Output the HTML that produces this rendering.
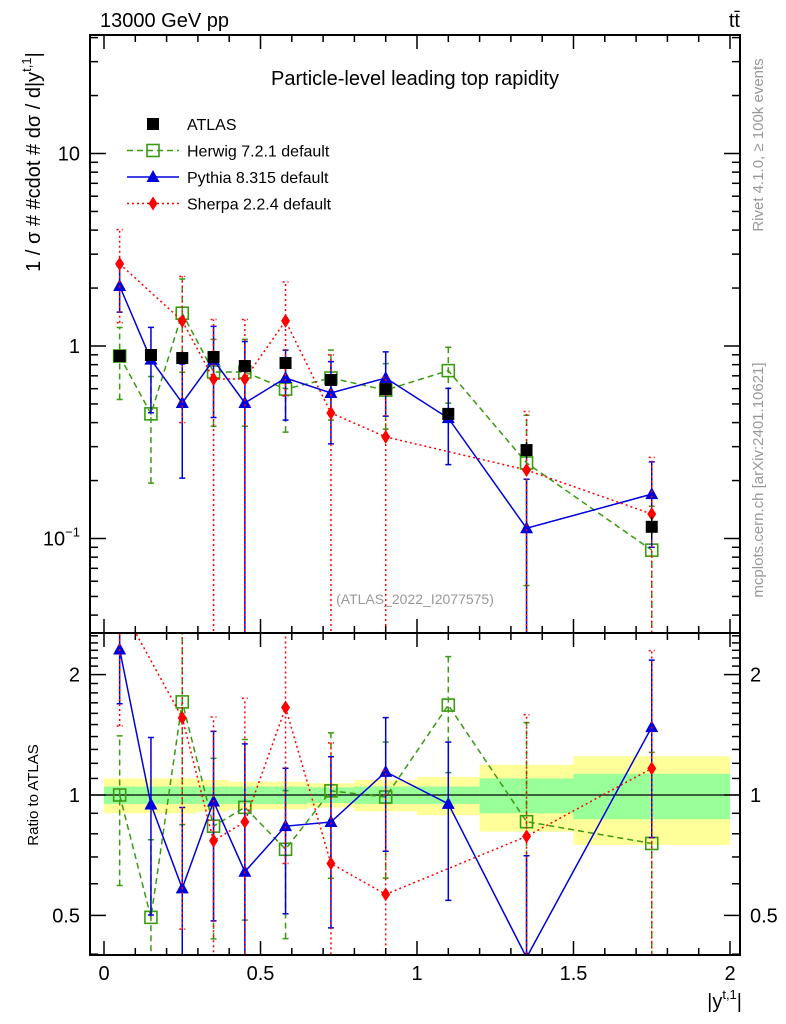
<!DOCTYPE html>
<html><head><meta charset="utf-8"><style>
html,body{margin:0;padding:0;background:#fff;overflow:hidden;width:786px;height:1024px;}
svg{display:block;font-family:"Liberation Sans",sans-serif;}
</style></head><body>
<svg id="c" width="786" height="1024" viewBox="0 0 786 1024" xmlns="http://www.w3.org/2000/svg">
<g id="bands"></g>
<g id="marks"></g>
<g id="axes"></g>
<text x="100" y="27" font-size="20">13000 GeV pp</text>
<text x="740" y="27" font-size="20" text-anchor="end">tt̄</text>
<text x="415" y="85" font-size="20" text-anchor="middle">Particle-level leading top rapidity</text>
<text x="415" y="604" font-size="14" fill="#999" text-anchor="middle">(ATLAS_2022_I2077575)</text>
<text transform="translate(40,162) rotate(-90)" font-size="20" text-anchor="middle">1 / σ # #cdot # dσ / d|y<tspan font-size="13" dy="-9">t,1</tspan><tspan dy="9">|</tspan></text>
<text transform="translate(38,795) rotate(-90)" font-size="15" text-anchor="middle">Ratio to ATLAS</text>
<text x="742" y="1008" font-size="20" text-anchor="end">|y<tspan font-size="13" dy="-9">t,1</tspan><tspan dy="9">|</tspan></text>
<text transform="translate(763,145) rotate(-90)" font-size="15" fill="#999" text-anchor="middle">Rivet 4.1.0, ≥ 100k events</text>
<text transform="translate(763,480) rotate(-90)" font-size="15" fill="#999" text-anchor="middle">mcplots.cern.ch [arXiv:2401.10621]</text>
<g id="legend"></g>
</svg>
<script>
const edges=[0,0.1,0.2,0.3,0.4,0.5,0.65,0.8,1.0,1.2,1.5,2.0];
const xc=[0.05,0.15,0.25,0.35,0.45,0.58,0.725,0.9,1.1,1.35,1.75];
const atlas=[0.887,0.898,0.866,0.877,0.787,0.816,0.666,0.597,0.444,0.288,0.115];
const statRel=[0.05,0.05,0.05,0.05,0.05,0.05,0.045,0.05,0.05,0.1,0.13];
const totRel=[0.1,0.1,0.1,0.09,0.08,0.08,0.07,0.09,0.11,0.19,0.25];
const herwig=[0.887,0.444,1.48,0.733,0.733,0.597,0.682,0.59,0.745,0.247,0.087];
const herwigErr=[0.36,0.25,0.75,0.35,0.35,0.24,0.27,0.22,0.24,0.19,0.06];
const pythia=[2.05,0.85,0.506,0.845,0.506,0.682,0.57,0.682,0.422,0.113,0.17];
const pythiaErr=[0.55,0.4,0.3,0.42,0.55,0.27,0.26,0.25,0.18,0.09,0.08];
const sherpa=[2.67,null,1.35,0.674,0.674,1.35,0.449,0.337,null,0.227,0.134];
const sherpaErr=[1.35,null,0.95,0.7,0.7,0.8,0.45,0.35,null,0.23,0.13];

const NS="http://www.w3.org/2000/svg";
const X0=104,X1=730,L=90,R=740,T=35,MB=633,RB=955;
const X=v=>X0+(X1-X0)*v/2;
const YM=v=>346-192.5*Math.log10(v);
const YR=v=>795-400*Math.log10(v);
function el(p,tag,a){const e=document.createElementNS(NS,tag);for(const k in a)e.setAttribute(k,a[k]);p.appendChild(e);return e;}
const bands=document.getElementById('bands'),marks=document.getElementById('marks'),axes=document.getElementById('axes'),leg=document.getElementById('legend');

for(let i=0;i<xc.length;i++){
  const x=X(edges[i]),w=X(edges[i+1])-x;
  const y=el(bands,'rect',{x:x,y:YR(1+totRel[i]),width:w,height:YR(1-totRel[i])-YR(1+totRel[i]),fill:'#ffff99'});
  
  
  const g=el(bands,'rect',{x:x,y:YR(1+statRel[i]),width:w,height:YR(1-statRel[i])-YR(1+statRel[i]),fill:'#99ff99'});
  
  
}
el(bands,'line',{x1:L,x2:R,y1:YR(1),y2:YR(1),stroke:'#000','stroke-width':1.3});

const defs=el(document.getElementById('c'),'defs',{});
const cm=el(defs,'clipPath',{id:'cm'});el(cm,'rect',{x:L,y:T,width:R-L,height:MB-T});
const cr=el(defs,'clipPath',{id:'cr'});el(cr,'rect',{x:L,y:MB,width:R-L,height:RB-MB});
const gm=el(marks,'g',{'clip-path':'url(#cm)'}),gr=el(marks,'g',{'clip-path':'url(#cr)'});

function marker(p,type,x,y,col){
  let m;
  if(type==='sq') m=el(p,'rect',{x:x-6,y:y-6,width:12,height:12,fill:'#000'});
  else if(type==='osq') m=el(p,'rect',{x:x-6,y:y-6,width:12,height:12,fill:'none',stroke:col,'stroke-width':1.6});
  else if(type==='tri') m=el(p,'polygon',{points:`${x},${y-7} ${x+6.5},${y+5} ${x-6.5},${y+5}`,fill:col});
  else m=el(p,'polygon',{points:`${x},${y-7} ${x+4.5},${y} ${x},${y+7} ${x-4.5},${y}`,fill:col});
  
  
}
function series(name,vals,errs,col,dash,type){
  [[gm,YM,1],[gr,YR,0]].forEach(([g,Y,main])=>{
    const pts=[];
    vals.forEach((v,i)=>{ if(v==null)return;
      const div=main?1:atlas[i];
      const val=v/div,lo=Math.max(v-errs[i],1e-4)/div,hi=(v+errs[i])/div;
      const x=X(xc[i]);
      const eb=el(g,'path',{d:`M${x},${Y(lo)}V${Y(hi)}M${x-3},${Y(lo)}h6M${x-3},${Y(hi)}h6`,stroke:col,'stroke-width':1.5,'stroke-dasharray':dash,fill:'none'});
      
      
      pts.push([x,Y(val)]);
    });
    const ln=el(g,'polyline',{points:pts.map(p=>p.join(',')).join(' '),stroke:col,'stroke-width':1.5,'stroke-dasharray':dash,fill:'none'});
    
    
    pts.forEach(p=>marker(g,type,p[0],p[1],col));
  });
}
series('herwig',herwig,herwigErr,'#3a9a10','6,4','osq');
series('pythia',pythia,pythiaErr,'#0000dd','','tri');
series('sherpa',sherpa,sherpaErr,'#ff0000','2,3','dia');
atlas.forEach((v,i)=>{
  const x=X(xc[i]),e=v*statRel[i];
  el(gm,'path',{d:`M${x},${YM(v-e)}V${YM(v+e)}`,stroke:'#000','stroke-width':1.5});
  marker(gm,'sq',x,YM(v));
});

el(axes,'rect',{x:L,y:T,width:R-L,height:MB-T,fill:'none',stroke:'#000','stroke-width':2});
el(axes,'rect',{x:L,y:MB,width:R-L,height:RB-MB,fill:'none',stroke:'#000','stroke-width':2});
for(let k=0;k<=20;k++){
  const v=k/10,x=X(v),len=k%5===0?14:7;
  [T,MB].forEach(y=>el(axes,'line',{x1:x,x2:x,y1:y,y2:y+len,stroke:'#000','stroke-width':1.5}));
  [MB,RB].forEach(y=>el(axes,'line',{x1:x,x2:x,y1:y,y2:y-len,stroke:'#000','stroke-width':1.5}));
}
const xticks=['0','0.5','1','1.5','2'];
xticks.forEach(t=>{const e=el(axes,'text',{x:X(+t),y:980,'font-size':20,'text-anchor':'middle'});e.textContent=t;
 });
for(let d=-2;d<=1;d++)for(let m=1;m<=9;m++){
  const v=m*Math.pow(10,d),y=YM(v); if(y<T||y>MB)continue;
  const len=m===1?16:8;
  el(axes,'line',{x1:L,x2:L+len,y1:y,y2:y,stroke:'#000','stroke-width':1.5});
  el(axes,'line',{x1:R,x2:R-len,y1:y,y2:y,stroke:'#000','stroke-width':1.5});
}
[['10',10],['1',1]].forEach(([t,v])=>{const e=el(axes,'text',{x:80,y:YM(v)+7,'font-size':20,'text-anchor':'end'});e.textContent=t;
 });
{const e=el(axes,'text',{x:80,y:YM(0.1)+7,'font-size':20,'text-anchor':'end'});e.innerHTML='10<tspan font-size="13" dy="-9">−1</tspan>';
 }
[0.4,0.5,0.6,0.7,0.8,0.9,1,2,1.1,1.2,1.3,1.4,1.5,1.6,1.7,1.8,1.9,2.1,2.2,2.3,2.4,2.5].forEach(v=>{
  const y=YR(v); if(y<MB||y>RB)return;
  const len=(v===0.5||v===1||v===2)?16:8;
  el(axes,'line',{x1:L,x2:L+len,y1:y,y2:y,stroke:'#000','stroke-width':1.5});
  el(axes,'line',{x1:R,x2:R-len,y1:y,y2:y,stroke:'#000','stroke-width':1.5});
});
['2','1','0.5'].forEach(t=>{
  const a=el(axes,'text',{x:80,y:YR(+t)+7,'font-size':20,'text-anchor':'end'});a.textContent=t;
  
  const b=el(axes,'text',{x:750,y:YR(+t)+7,'font-size':20});b.textContent=t;
  
});

const legItems=[['ATLAS','#000','','sq'],['Herwig 7.2.1 default','#3a9a10','6,4','osq'],['Pythia 8.315 default','#0000dd','','tri'],['Sherpa 2.2.4 default','#ff0000','2,3','dia']];
legItems.forEach((it,i)=>{
  const y=124+i*26.5;
  const g=el(leg,'g',{});
  
  
  if(i>0) el(g,'line',{x1:127,x2:179,y1:y,y2:y,stroke:it[1],'stroke-width':1.5,'stroke-dasharray':it[2]});
  marker(g,it[3],153,y,it[1]);
  const t=el(g,'text',{x:187,y:y+6,'font-size':16});t.textContent=it[0];
});
</script>
</body></html>
